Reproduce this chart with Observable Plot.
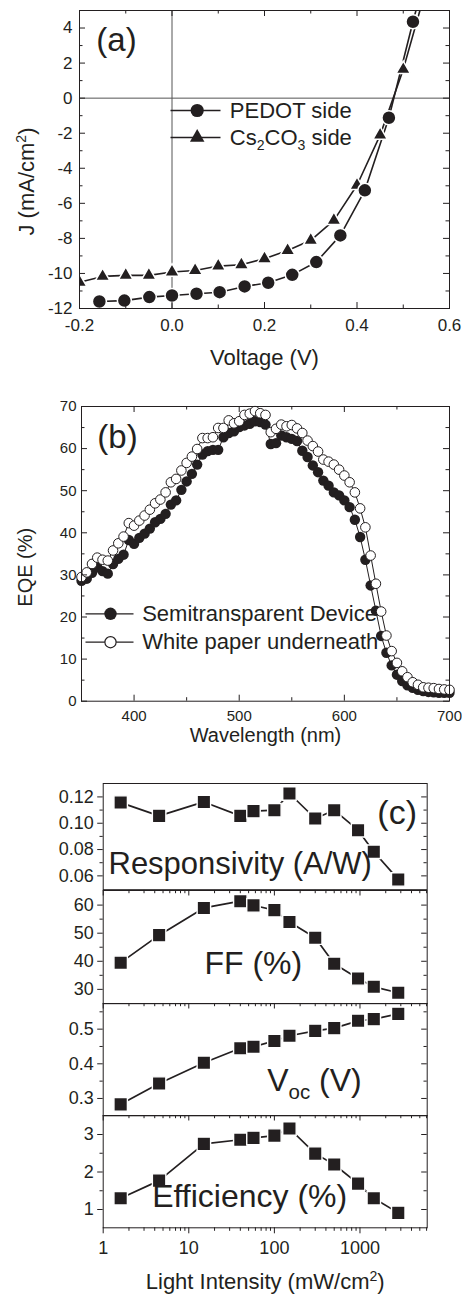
<!DOCTYPE html>
<html><head><meta charset="utf-8">
<script src="https://cdn.jsdelivr.net/npm/d3@7"></script>
<script src="https://cdn.jsdelivr.net/npm/@observablehq/plot@0.6"></script>
<style>
html,body{margin:0;padding:0;background:#fff;}
#root{position:relative;width:462px;height:1296px;overflow:hidden;background:#fff;}
</style></head><body><div id="root"></div>
<script>
// ---------- Panel (a): J-V ----------
const pedotV = [-0.157,-0.103,-0.049,0.0,0.053,0.103,0.157,0.208,0.26,0.312,0.364,0.417,0.469,0.521,0.573];
const pedotJ = [-11.6,-11.55,-11.35,-11.26,-11.16,-11.07,-10.74,-10.53,-10.08,-9.35,-7.83,-5.26,-1.12,4.36,9.5];
const csV = [-0.2,-0.15,-0.1,-0.05,0.0,0.05,0.1,0.15,0.2,0.25,0.3,0.35,0.4,0.45,0.5,0.55];
const csJ = [-10.5,-10.17,-10.11,-10.11,-9.92,-9.83,-9.58,-9.5,-9.16,-8.69,-8.11,-6.97,-4.97,-2.11,1.64,6.3];
const legendA = ["PEDOT side", "Cs_{2}CO_{3} side"];
const aXTicks = [-0.2, 0.0, 0.2, 0.4, 0.6];
const aXMinor = [-0.1, 0.1, 0.3, 0.5];
const aYTicks = [-12, -10, -8, -6, -4, -2, 0, 2, 4];
const aYMinor = [-11, -9, -7, -5, -3, -1, 1, 3, 5];

// ---------- Panel (b): EQE ----------
const wavelength = [350,355,360,365,370,375,380,385,390,395,400,405,410,415,420,425,430,435,440,445,450,455,460,465,470,475,480,485,490,495,500,505,510,515,520,525,530,535,540,545,550,555,560,565,570,575,580,585,590,595,600,605,610,615,620,625,630,635,640,645,650,655,660,665,670,675,680,685,690,695,700];
const eqeDevice = [28.6,29.1,30.5,31.8,30.9,30.3,32.6,33.8,34.8,38.3,
  37.4,38.8,39.8,41.0,42.5,43.3,44.5,46.7,47.7,50.2,
  52.2,54.0,56.2,58.6,59.4,59.7,59.7,62.7,63.7,64.1,
  65.1,65.5,65.9,66.5,66.3,65.7,61.1,61.3,63.1,62.7,
  62.3,61.8,59.5,58.0,56.0,54.4,52.4,51.2,49.6,48.9,
  47.7,46.1,43.1,39.0,33.6,27.5,21.5,15.5,11.5,8.5,
  6.3,4.8,3.8,3.2,2.7,2.4,2.2,2.1,2.0,2.0,2.0];
const eqePaper = [29.5,30.6,32.6,34.1,33.6,33.4,35.8,37.5,39.1,42.3,
  41.7,42.9,44.1,45.5,47.0,47.9,49.6,52.0,52.8,54.8,
  56.6,58.1,59.9,62.5,62.5,62.7,64.9,64.9,66.7,66.0,
  66.5,68.0,68.3,68.9,68.4,68.0,63.9,64.7,65.7,65.3,
  65.6,64.8,63.7,61.9,60.6,59.3,57.4,56.9,56.2,55.0,
  53.6,52.0,49.6,45.8,41.3,34.6,27.9,21.3,15.6,11.9,
  9.1,7.1,5.7,4.5,3.9,3.3,3.2,3.1,2.9,2.8,2.7];
const legendB = ["Semitransparent Device", "White paper underneath"];
const bXTicks = [400, 500, 600, 700];
const bXMinor = [350, 450, 550, 650];
const bYTicks = [0, 10, 20, 30, 40, 50, 60, 70];
const bYMinor = [5, 15, 25, 35, 45, 55, 65];

// ---------- Panel (c): vs light intensity ----------
const intensity = [1.6, 4.5, 15, 40, 57, 100, 150, 300, 500, 950, 1450, 2800];
const responsivity = [0.1157,0.1056,0.1162,0.1056,0.1092,0.1099,0.1226,0.1036,0.1099,0.0947,0.0783,0.0573];
const fillFactor = [39.5,49.3,59.0,61.4,59.9,58.2,54.0,48.4,39.1,33.9,30.9,28.8];
const voc = [0.283,0.343,0.403,0.445,0.449,0.466,0.481,0.495,0.503,0.524,0.529,0.544];
const efficiency = [1.30,1.77,2.75,2.86,2.91,2.97,3.16,2.49,2.20,1.69,1.30,0.91];
const cXTicks = [1, 10, 100, 1000];
const cXMinor = [2,3,4,5,6,7,8,9,20,30,40,50,60,70,80,90,200,300,400,500,600,700,800,900,2000,3000,4000,5000,6000];
const respTicks = [0.06, 0.08, 0.10, 0.12], respMinor = [0.07, 0.09, 0.11];
const ffTicks = [30, 40, 50, 60], ffMinor = [35, 45, 55];
const vocTicks = [0.3, 0.4, 0.5], vocMinor = [0.35, 0.45, 0.55];
const effTicks = [1, 2, 3], effMinor = [1.5, 2.5];

// ---------- helpers ----------
const root = document.getElementById("root");
const INK = "#231f20";
const FONT = "'Liberation Sans', Arial, Helvetica, sans-serif";
const baseStyle = {background: "transparent", fontFamily: FONT, color: INK, overflow: "visible"};

function tX(vals, len, ih, side) {
  return Plot.tickX(vals, {x: d => d, stroke: INK, strokeWidth: 1,
    insetTop: side === "bottom" ? ih - len : side === "bottomOut" ? ih : 0,
    insetBottom: side === "top" ? ih - len : side === "bottomOut" ? -len : 0});
}
function tY(vals, len, iw, side) {
  return Plot.tickY(vals, {y: d => d, stroke: INK, strokeWidth: 1,
    insetRight: side === "left" ? iw - len : side === "leftOut" ? iw : 0,
    insetLeft: side === "right" ? iw - len : side === "leftOut" ? -len : 0});
}
const hLine = half => ({draw(ctx) { ctx.moveTo(-half, 0); ctx.lineTo(half, 0); }});
function legendRow(label, o) {
  return [
    Plot.dot([0], {frameAnchor: "top-left", dx: o.lineDx, dy: o.dy, symbol: hLine(o.half), r: 1, fill: "none", stroke: INK, strokeWidth: o.sw}),
    Plot.dot([0], {frameAnchor: "top-left", dx: o.markDx, dy: o.dy, symbol: o.symbol, r: o.r, fill: o.fill, stroke: o.stroke, strokeWidth: o.msw}),
    Plot.text([label], {frameAnchor: "top-left", dx: o.textDx, dy: o.dy, text: d => d, textAnchor: "start", lineAnchor: "middle", fontSize: o.fs, fill: INK})
  ];
}
function label(str, o) {
  return Plot.text([str], {frameAnchor: o.anchor, dx: o.dx, dy: o.dy, text: d => d, textAnchor: o.ta || "middle", lineAnchor: "middle", fontSize: o.fs, rotate: o.rotate || 0, fill: INK});
}
function rich(svg) {
  const NS = "http://www.w3.org/2000/svg";
  svg.querySelectorAll("text").forEach(el => {
    const t = el.textContent;
    if (!/[_^]\{/.test(t)) return;
    const fs = parseFloat(getComputedStyle(el).fontSize) || 16;
    const parts = t.split(/([_^]\{[^}]*\})/).filter(p => p);
    el.textContent = "";
    let shift = 0;
    for (const p of parts) {
      const m = p.match(/^([_^])\{([^}]*)\}$/);
      const ts = document.createElementNS(NS, "tspan");
      let target = 0;
      if (m) {
        target = m[1] === "^" ? -0.36 * fs : 0.24 * fs;
        ts.setAttribute("font-size", (0.64 * fs).toFixed(1));
        ts.textContent = m[2];
      } else ts.textContent = p;
      if (target - shift !== 0) ts.setAttribute("dy", (target - shift).toFixed(2));
      shift = target;
      el.appendChild(ts);
    }
  });
}
function place(svg, top) {
  svg.style.position = "absolute";
  svg.style.left = "0px";
  svg.style.top = top + "px";
  root.appendChild(svg);
  rich(svg);
}

// ---------- draw (a) ----------
{
  const W = 462, H = 375, mt = 10, mb = 67, ml = 79, mr = 13;
  const iw = W - ml - mr, ih = H - mt - mb;
  const pedot = pedotV.map((v, i) => ({v, j: pedotJ[i]}));
  const cs = csV.map((v, i) => ({v, j: csJ[i]}));
  const svg = Plot.plot({
    width: W, height: H, marginTop: mt, marginBottom: mb, marginLeft: ml, marginRight: mr,
    style: baseStyle,
    x: {domain: [-0.2, 0.6]}, y: {domain: [-12, 5]},
    marks: [
      Plot.ruleX([0], {stroke: "#555", strokeWidth: 1}),
      Plot.ruleY([0], {stroke: "#555", strokeWidth: 1}),
      Plot.line(cs, {x: "v", y: "j", stroke: INK, strokeWidth: 1.6, clip: true}),
      Plot.line(pedot, {x: "v", y: "j", stroke: INK, strokeWidth: 1.6, clip: true}),
      Plot.dot(cs, {x: "v", y: "j", symbol: "triangle", r: 5.4, fill: INK, stroke: "white", strokeWidth: 1.5, clip: true}),
      Plot.dot(pedot, {x: "v", y: "j", symbol: "circle", r: 7, fill: INK, stroke: "white", strokeWidth: 1.5, clip: true}),
      tX(aXTicks, 6, ih, "bottom"), tX(aXMinor, 3.5, ih, "bottom"),
      tX(aXTicks, 6, ih, "top"), tX(aXMinor, 3.5, ih, "top"),
      tY(aYTicks, 6, iw, "left"), tY(aYMinor, 3.5, iw, "left"),
      tY(aYTicks, 6, iw, "right"), tY(aYMinor, 3.5, iw, "right"),
      Plot.frame({stroke: INK}),
      Plot.axisX(aXTicks, {tickSize: 0, tickPadding: 10, fontSize: 17, tickFormat: d => d.toFixed(1), label: null}),
      Plot.axisY(aYTicks, {tickSize: 0, tickPadding: 7, fontSize: 17, tickFormat: d => String(d), label: null}),
      ...legendRow(legendA[0], {lineDx: 116, half: 25, sw: 1.6, markDx: 117.7, dy: 100, symbol: "circle", r: 6.6, fill: INK, stroke: "none", msw: 0, textDx: 150.3, fs: 22}),
      ...legendRow(legendA[1], {lineDx: 116, half: 25, sw: 1.6, markDx: 117.7, dy: 127, symbol: "triangle", r: 5.4, fill: INK, stroke: "none", msw: 0, textDx: 150.3, fs: 22}),
      label("(a)", {anchor: "top-left", dx: 37, dy: 30, fs: 33}),
      label("Voltage (V)", {anchor: "bottom", dx: 0, dy: 49, fs: 22}),
      label("J (mA/cm^{2})", {anchor: "left", dx: -53, dy: 22, fs: 22, rotate: -90})
    ]
  });
  place(svg, 0);
}

// ---------- draw (b) ----------
{
  const W = 462, H = 390, mt = 26, ml = 81, mr = 13;
  const ih = 294.7, mb = H - mt - ih, iw = W - ml - mr;
  const dev = wavelength.map((w, i) => ({w, e: eqeDevice[i]}));
  const pap = wavelength.map((w, i) => ({w, e: eqePaper[i]}));
  const svg = Plot.plot({
    width: W, height: H, marginTop: mt, marginBottom: mb, marginLeft: ml, marginRight: mr,
    style: baseStyle,
    x: {domain: [350, 700]}, y: {domain: [0, 70]},
    marks: [
      Plot.line(dev, {x: "w", y: "e", stroke: INK, strokeWidth: 1}),
      Plot.line(pap, {x: "w", y: "e", stroke: INK, strokeWidth: 1}),
      Plot.dot(dev, {x: "w", y: "e", r: 5.2, fill: INK, stroke: "none"}),
      Plot.dot(pap, {x: "w", y: "e", r: 4.8, fill: "white", stroke: INK, strokeWidth: 1}),
      tX(bXTicks, 6, ih, "bottom"), tX(bXMinor, 3.5, ih, "bottom"),
      tX(bXTicks, 6, ih, "top"), tX(bXMinor, 3.5, ih, "top"),
      tY(bYTicks, 6, iw, "left"), tY(bYMinor, 3.5, iw, "left"),
      tY(bYTicks, 6, iw, "right"), tY(bYMinor, 3.5, iw, "right"),
      Plot.frame({stroke: INK}),
      Plot.axisX(bXTicks, {tickSize: 0, tickPadding: 9, fontSize: 15, tickFormat: d => String(d), label: null}),
      Plot.axisY(bYTicks, {tickSize: 0, tickPadding: 5, fontSize: 15, tickFormat: d => String(d), label: null}),
      ...legendRow(legendB[0], {lineDx: 28, half: 24, sw: 1.2, markDx: 29, dy: 207.3, symbol: "circle", r: 6.2, fill: INK, stroke: "none", msw: 0, textDx: 60.7, fs: 22}),
      ...legendRow(legendB[1], {lineDx: 28, half: 24, sw: 1.2, markDx: 29, dy: 235.7, symbol: "circle", r: 5.6, fill: "white", stroke: INK, msw: 1.2, textDx: 60.7, fs: 22}),
      label("(b)", {anchor: "top-left", dx: 36, dy: 31, fs: 33}),
      label("Wavelength (nm)", {anchor: "bottom", dx: 0, dy: 34.3, fs: 20}),
      label("EQE (%)", {anchor: "left", dx: -56, dy: 13.4, fs: 20, rotate: -90})
    ]
  });
  place(svg, 380);
}

// ---------- draw (c) ----------
{
  const panels = [
    {vals: responsivity, top: 783.3, h: 106.2, domain: [0.0495, 0.1302], major: respTicks, minor: respMinor, fmt: d => d.toFixed(2), topTicks: false, bottom: false, text: "Responsivity (A/W)", lx: 5.3, ly: 81, lfs: 31},
    {vals: fillFactor, top: 889.5, h: 113.2, domain: [24.9, 65.2], major: ffTicks, minor: ffMinor, fmt: d => String(d), topTicks: true, bottom: false, text: "FF (%)", lx: 101.3, ly: 73.5, lfs: 32},
    {vals: voc, top: 1002.7, h: 112.3, domain: [0.25, 0.574], major: vocTicks, minor: vocMinor, fmt: d => d.toFixed(1), topTicks: true, bottom: false, text: "V_{oc} (V)", lx: 164, ly: 77.5, lfs: 32},
    {vals: efficiency, top: 1115, h: 112.3, domain: [0.512, 3.507], major: effTicks, minor: effMinor, fmt: d => String(d), topTicks: true, bottom: true, text: "Efficiency (%)", lx: 49, ly: 81.7, lfs: 32}
  ];
  const W = 462, ml = 102.7, mr = 35.3, iw = W - ml - mr;
  panels.forEach((p, k) => {
    const mt = 20, mb = p.bottom ? 1296 - (p.top + p.h) : 20, H = mt + p.h + mb, ih = p.h;
    const data = intensity.map((x, i) => ({x, v: p.vals[i]}));
    const marks = [
      Plot.line(data, {x: "x", y: "v", stroke: INK, strokeWidth: 1.7}),
      Plot.dot(data, {x: "x", y: "v", symbol: "square", r: 7.6, fill: INK, stroke: "white", strokeWidth: 1.4}),
      tY(p.major, 5.5, iw, "leftOut"), tY(p.minor, 3.2, iw, "leftOut"),
      tY(p.major, 5.5, iw, "right"), tY(p.minor, 3.2, iw, "right"),
      Plot.frame({stroke: INK}),
      Plot.axisY(p.major, {tickSize: 0, tickPadding: 9.4, fontSize: 18, tickFormat: p.fmt, label: null}),
      label(p.text, {anchor: "top-left", dx: p.lx, dy: p.ly, fs: p.lfs, ta: "start"})
    ];
    if (p.topTicks) marks.push(tX(cXTicks, 5.5, ih, "top"), tX(cXMinor, 3.2, ih, "top"));
    if (p.bottom) marks.push(
      tX(cXTicks, 6, ih, "bottomOut"), tX(cXMinor, 3.5, ih, "bottomOut"),
      Plot.axisX(cXTicks, {tickSize: 0, tickPadding: 13, fontSize: 18, tickFormat: d => String(d), label: null}),
      label("Light Intensity (mW/cm^{2})", {anchor: "bottom", dx: 0, dy: 54.5, fs: 22})
    );
    if (k === 0) marks.push(label("(c)", {anchor: "top-left", dx: 294, dy: 29.7, fs: 34}));
    const svg = Plot.plot({
      width: W, height: H, marginTop: mt, marginBottom: mb, marginLeft: ml, marginRight: mr,
      style: baseStyle,
      x: p.bottom ? {type: "log", domain: [1, 6100]} : {type: "log", domain: [1, 6100], axis: null},
      y: {domain: p.domain},
      marks
    });
    place(svg, p.top - mt);
  });
}
</script></body></html>
